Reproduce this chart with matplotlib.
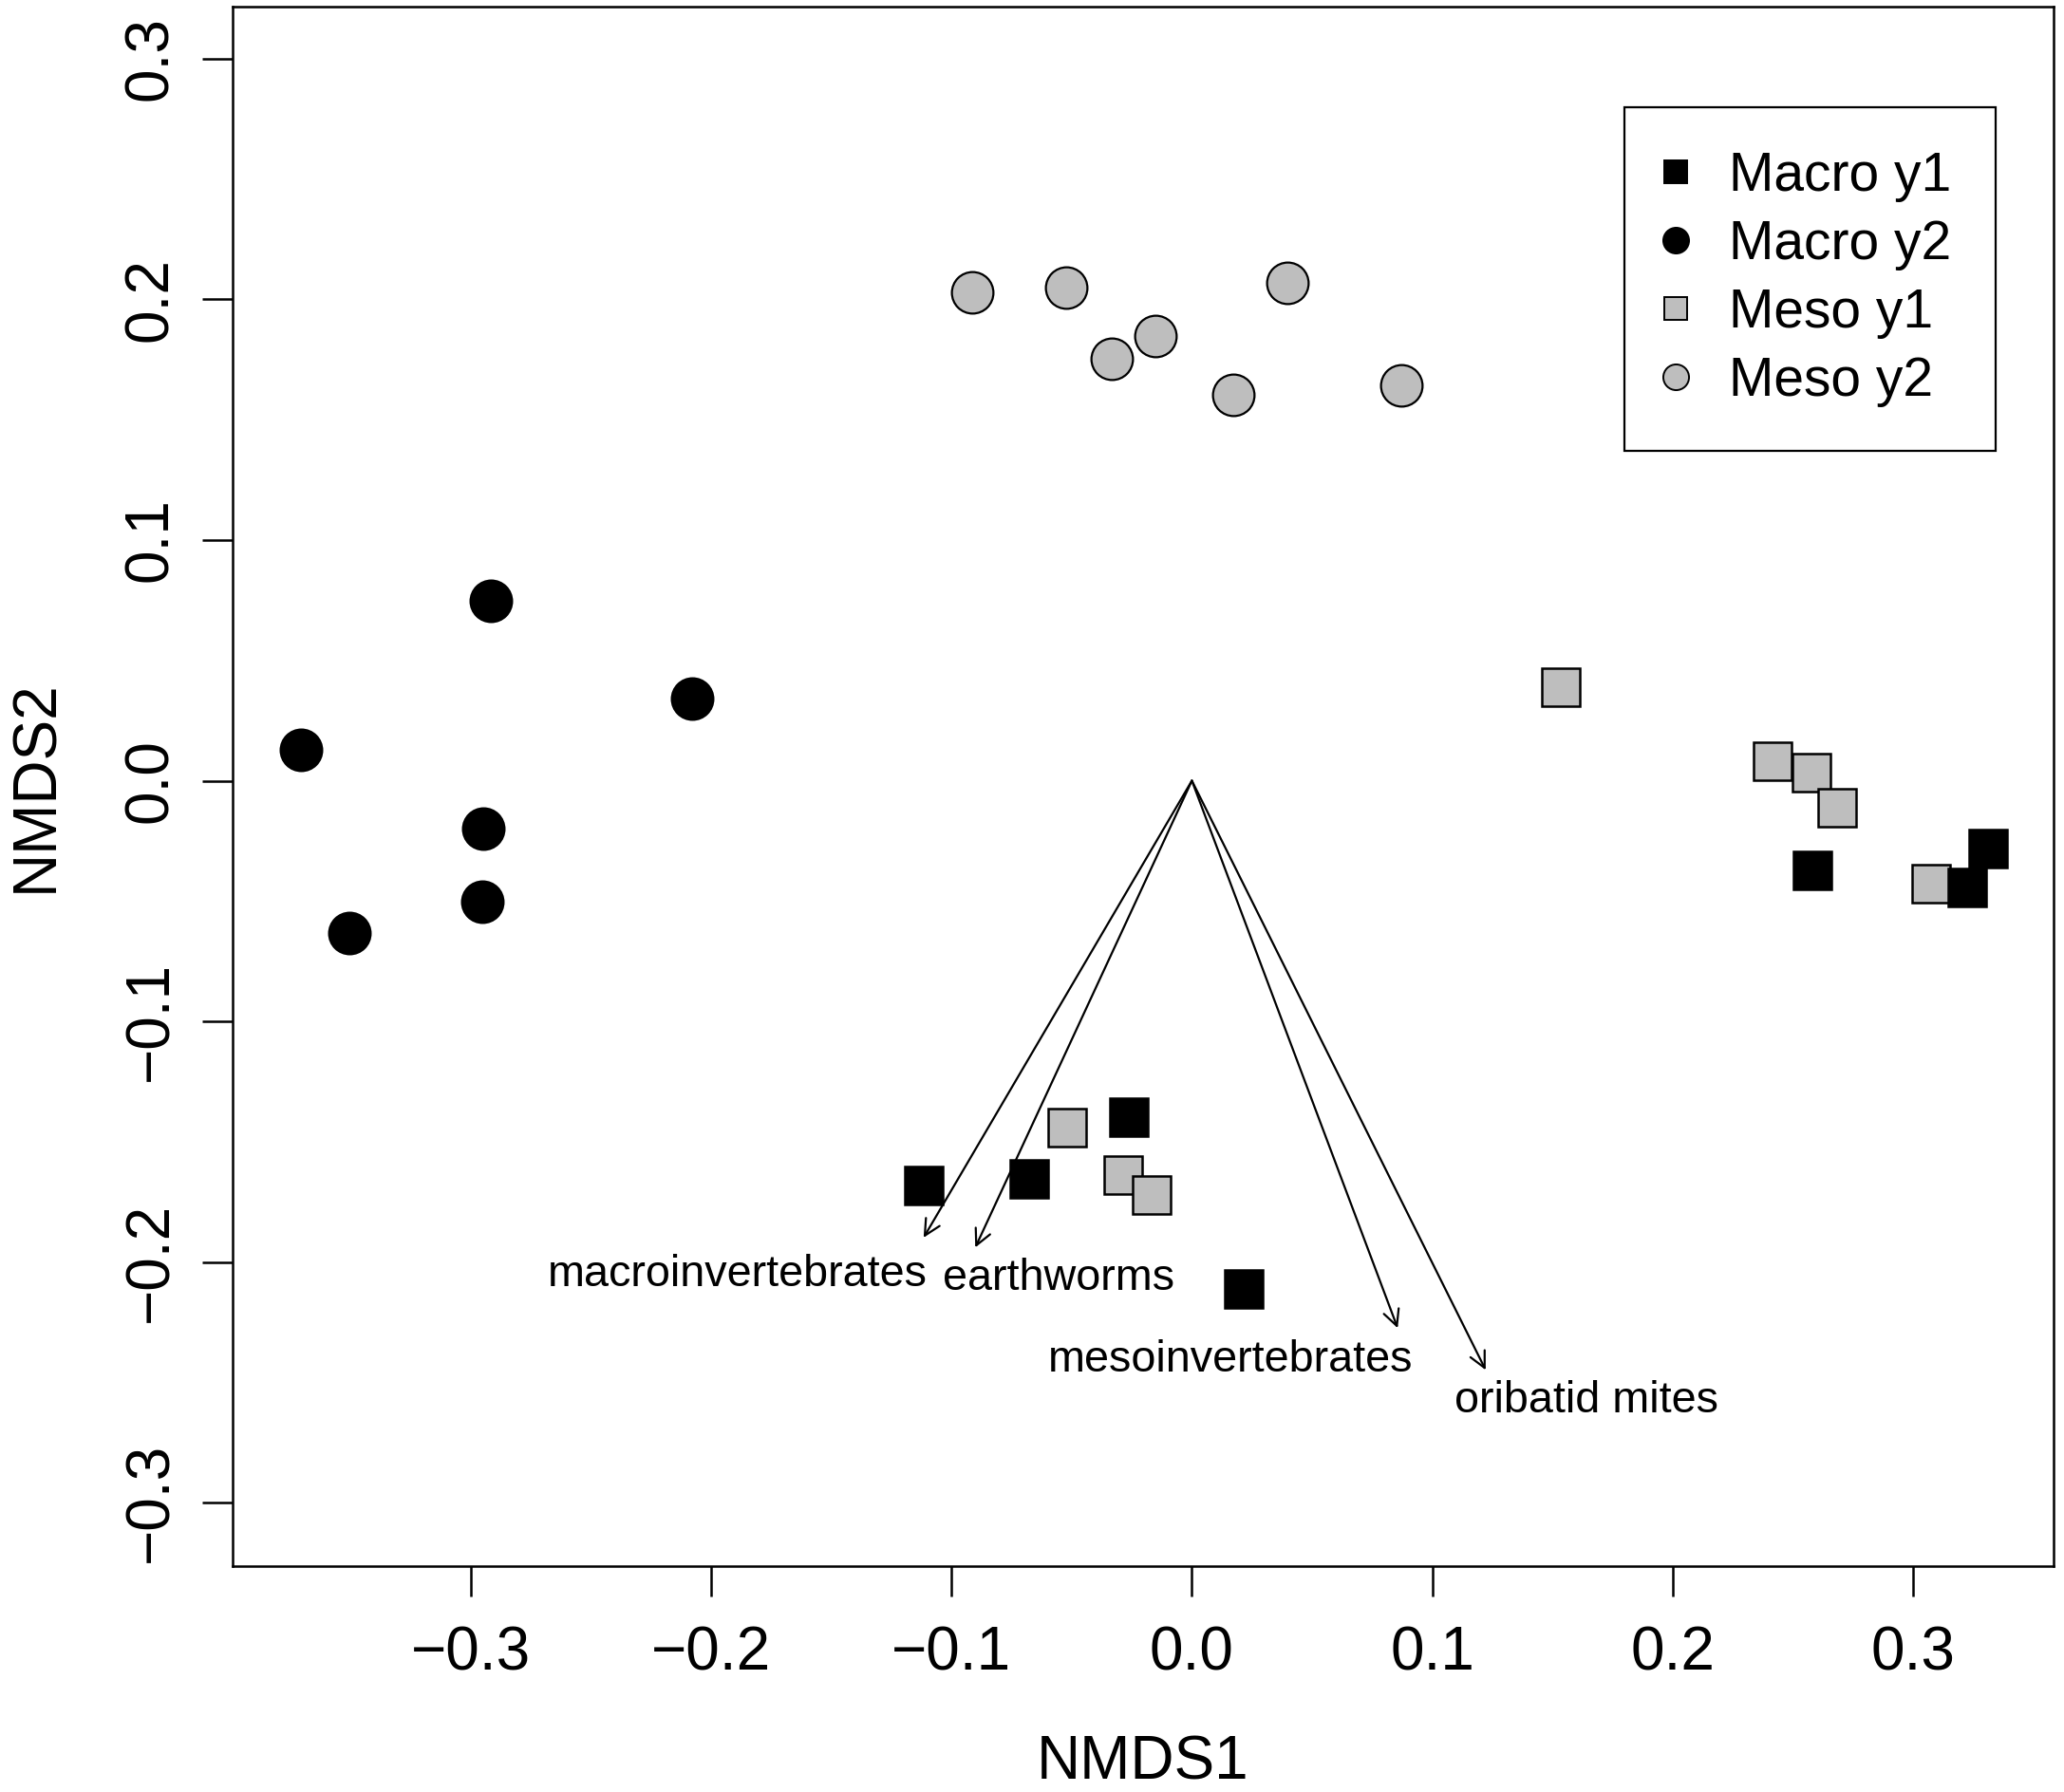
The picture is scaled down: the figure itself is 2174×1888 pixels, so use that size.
import matplotlib
matplotlib.use("Agg")
import matplotlib.pyplot as plt
from matplotlib.lines import Line2D

plt.rcParams['font.family'] = ['Liberation Sans', 'DejaVu Sans']

# site scores
macro_y1_x = [0.2581, 0.3225, 0.3311, -0.1116, -0.0676, -0.0261, 0.0217]
macro_y1_y = [-0.0373, -0.0445, -0.0281, -0.1681, -0.1656, -0.1398, -0.2112]

macro_y2_x = [-0.2915, -0.2077, -0.3707, -0.2947, -0.2950, -0.3504]
macro_y2_y = [0.0749, 0.0340, 0.0127, -0.0200, -0.0503, -0.0632]

meso_y1_x = [0.1534, 0.2417, 0.2579, 0.2685, 0.3074, -0.0520, -0.0284, -0.0166]
meso_y1_y = [0.0389, 0.0079, 0.0034, -0.0114, -0.0427, -0.1442, -0.1639, -0.1722]

meso_y2_x = [-0.0915, -0.0521, -0.0332, -0.0150, 0.0174, 0.0396, 0.0870]
meso_y2_y = [0.2031, 0.2049, 0.1755, 0.1848, 0.1604, 0.2068, 0.1643]

# fitted vectors (arrow tips) and where their names were written
vec_names = ['macroinvertebrates', 'earthworms', 'mesoinvertebrates', 'oribatid mites']
vec_x = [-0.1116, -0.0901, 0.0856, 0.1222]
vec_y = [-0.1899, -0.1940, -0.2275, -0.2449]
label_x = [-0.189, -0.0556, 0.0160, 0.1643]
label_y = [-0.2099, -0.2118, -0.2456, -0.2626]

ticks = [-0.3, -0.2, -0.1, 0.0, 0.1, 0.2, 0.3]
tick_labels = ['\u22120.3', '\u22120.2', '\u22120.1', '0.0', '0.1', '0.2', '0.3']

grey = '#BEBEBE'

fig = plt.figure(figsize=(21.74, 18.88), dpi=100)
ax = fig.add_axes([245 / 2174, 1 - 1650 / 1888, 1918 / 2174, 1643.3 / 1888])

ax.plot(meso_y2_x, meso_y2_y, 'o', ms=31.5, mfc=grey, mec='black', mew=1.6, ls='none')
ax.plot(macro_y2_x, macro_y2_y, 'o', ms=31.5, mfc='black', mec='black', mew=1.6, ls='none')
ax.plot(meso_y1_x, meso_y1_y, 's', ms=28.4, mfc=grey, mec='black', mew=1.8, ls='none')
ax.plot(macro_y1_x, macro_y1_y, 's', ms=28.4, mfc='black', mec='black', mew=1.8, ls='none')

for name, vx, vy, lx, ly in zip(vec_names, vec_x, vec_y, label_x, label_y):
    ax.annotate('', xy=(vx, vy), xytext=(0, 0),
                arrowprops=dict(arrowstyle='->,head_length=0.6,head_width=0.3',
                                lw=1.6, color='black', mutation_scale=20,
                                shrinkA=0, shrinkB=0))
    ax.text(lx, ly, name, fontsize=33.7, ha='center', va='baseline')

ax.set_xlim(-0.399, 0.3584)
ax.set_ylim(-0.3264, 0.3218)
ax.set_xticks(ticks)
ax.set_xticklabels(tick_labels)
ax.set_yticks(ticks)
ax.set_yticklabels(tick_labels, rotation=90, va='center')

ax.tick_params(axis='both', length=22.8, width=1.8, labelsize=46)
ax.tick_params(axis='x', pad=22)
ax.tick_params(axis='y', pad=17.5)
for sp in ax.spines.values():
    sp.set_linewidth(1.8)

ax.set_xlabel('NMDS1', fontsize=46, labelpad=40)
ax.set_ylabel('NMDS2', fontsize=46, labelpad=44)

handles = [
    Line2D([], [], marker='s', ls='none', ms=17, mfc='black', mec='black', mew=1.4),
    Line2D([], [], marker='o', ls='none', ms=19.5, mfc='black', mec='black', mew=1.4),
    Line2D([], [], marker='s', ls='none', ms=17, mfc=grey, mec='black', mew=1.4),
    Line2D([], [], marker='o', ls='none', ms=19.5, mfc=grey, mec='black', mew=1.4),
]
leg = ax.legend(handles, ['Macro y1', 'Macro y2', 'Meso y1', 'Meso y2'],
                loc='upper left', bbox_to_anchor=(0.7641, 0.9355), borderaxespad=0,
                fontsize=41, fancybox=False, framealpha=1, edgecolor='black',
                borderpad=0.81, handlelength=0.305, handletextpad=0.83,
                labelspacing=0.318)
leg.get_frame().set_linewidth(1.6)

fig.savefig('out.png', dpi=100)
